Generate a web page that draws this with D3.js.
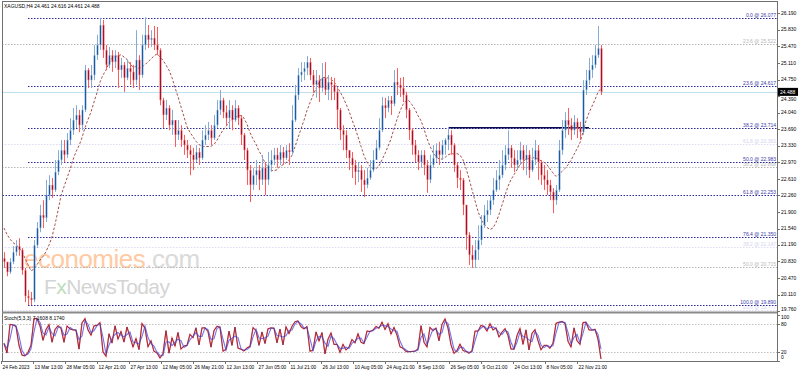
<!DOCTYPE html>
<html>
<head>
<meta charset="utf-8">
<script src="https://cdn.jsdelivr.net/npm/d3@7"></script>
<style>
    html, body { margin: 0; padding: 0; background: #fff; }
    svg { display: block; font-family: "Liberation Sans", Arial, sans-serif; }
</style>
</head>
<body>
<svg id="chart" width="798" height="372"></svg>
<script>
// ---- data ----
const chartTitle = "XAGUSD,H4  24.461 24.616 24.461 24.488";
const stochTitle = "Stoch(5,3,3) 7.1608 8.1740";
const firstOpen = 20.90;

const closes = [
    20.82, 20.60, 20.82, 21.03, 21.16, 21.08, 20.64, 20.08, 20.04, 20.00,
    21.18, 21.55, 21.83, 21.77, 22.26, 22.48, 22.37, 22.76, 23.02, 23.23,
    23.13, 23.45, 23.66, 23.88, 23.99, 23.77, 24.10, 24.96, 24.74, 24.85,
    25.28, 25.50, 25.93, 25.39, 25.07, 25.28, 25.13, 25.28, 24.96, 25.07,
    24.79, 25.00, 24.92, 24.74, 25.18, 24.85, 25.50, 25.72, 25.61, 25.65,
    25.50, 25.39, 24.31, 23.99, 24.14, 23.77, 23.88, 23.56, 23.66, 23.45,
    23.34, 23.23, 23.13, 23.02, 23.19, 23.06, 23.45, 23.56, 23.66, 23.49,
    23.77, 24.10, 24.31, 24.05, 23.92, 24.10, 23.88, 24.14, 23.92, 23.56,
    23.23, 22.80, 22.48, 22.69, 22.80, 22.59, 22.85, 22.59, 22.91, 23.02,
    23.13, 23.02, 23.19, 23.06, 23.23, 23.19, 23.88, 24.42, 24.85, 24.92,
    25.00, 25.13, 24.85, 24.64, 24.74, 24.57, 24.79, 24.53, 24.70, 24.64,
    24.49, 24.10, 23.66, 23.56, 23.23, 23.06, 22.91, 22.76, 22.80, 22.59,
    22.48, 22.63, 22.80, 23.02, 23.28, 23.66, 24.20, 24.14, 24.31, 24.23,
    24.70, 24.64, 24.57, 24.42, 24.10, 23.66, 23.34, 23.13, 22.97, 23.13,
    22.91, 22.59, 22.91, 23.06, 23.23, 23.13, 23.34, 23.45, 23.56, 23.34,
    22.91, 22.63, 22.59, 22.05, 21.40, 20.97, 20.86, 21.08, 21.29, 21.61,
    21.83, 21.94, 22.15, 22.37, 22.59, 22.69, 22.91, 23.13, 23.28, 23.06,
    22.91, 23.02, 23.23, 23.02, 23.13, 22.80, 23.02, 23.23, 22.97, 22.69,
    22.59, 22.48, 22.33, 22.15, 22.37, 23.23, 23.66, 23.88, 23.77, 23.66,
    23.84, 23.71, 23.62, 24.53, 24.74, 24.96, 25.07, 25.28, 25.43, 24.488
];
const highs = [
    21.03, 20.82, 20.90, 21.16, 21.29, 21.33, 21.12, 20.69, 20.21, 20.17,
    21.29, 21.68, 22.05, 22.15, 22.59, 22.69, 22.63, 23.02, 23.23, 23.45,
    23.45, 23.60, 23.92, 24.14, 24.20, 24.10, 24.20, 25.07, 25.00, 25.07,
    25.50, 25.72, 26.08, 26.04, 25.50, 25.46, 25.39, 25.39, 25.35, 25.22,
    25.13, 25.18, 25.13, 25.07, 25.82, 25.28, 25.72, 26.10, 25.93, 25.82,
    25.91, 25.89, 25.43, 24.36, 24.31, 24.20, 24.10, 23.88, 23.88, 23.77,
    23.56, 23.45, 23.34, 23.28, 23.34, 23.28, 23.66, 23.77, 23.84, 23.77,
    23.99, 24.31, 24.53, 24.36, 24.20, 24.31, 24.20, 24.31, 24.20, 23.99,
    23.60, 23.28, 22.91, 22.85, 23.02, 22.91, 23.13, 22.97, 23.19, 23.23,
    23.28, 23.28, 23.34, 23.30, 23.34, 23.38, 24.20, 24.64, 25.00, 25.13,
    25.13, 25.26, 25.22, 24.96, 24.96, 24.85, 25.11, 25.13, 24.85, 24.81,
    24.79, 24.57, 24.14, 23.77, 23.66, 23.23, 23.19, 23.02, 22.97, 22.91,
    22.80, 22.85, 23.02, 23.23, 23.45, 23.92, 24.38, 24.36, 24.40, 24.40,
    24.96, 25.00, 24.79, 24.81, 24.49, 24.14, 23.71, 23.45, 23.23, 23.23,
    23.23, 23.02, 23.13, 23.34, 23.38, 23.41, 23.45, 23.49, 23.73, 23.66,
    23.38, 22.97, 22.80, 22.63, 22.05, 21.46, 21.18, 21.29, 21.61, 21.83,
    22.05, 22.15, 22.26, 22.63, 22.80, 23.02, 23.23, 23.34, 23.66, 23.34,
    23.23, 23.23, 23.41, 23.34, 23.34, 23.23, 23.28, 23.45, 23.34, 23.02,
    22.91, 22.80, 22.59, 22.41, 22.48, 23.45, 23.88, 24.05, 24.14, 23.92,
    23.99, 23.92, 23.84, 24.74, 24.96, 25.22, 25.28, 25.50, 25.91, 25.50
];
const lows = [
    20.69, 20.51, 20.56, 20.77, 20.95, 20.95, 20.54, 19.95, 19.89, 19.89,
    19.95, 21.12, 21.46, 21.55, 21.68, 22.15, 22.20, 22.33, 22.69, 22.91,
    22.97, 23.06, 23.34, 23.56, 23.71, 23.62, 23.66, 24.05, 24.57, 24.57,
    24.74, 25.18, 25.39, 25.22, 24.96, 25.00, 24.92, 25.00, 24.57, 24.79,
    24.49, 24.74, 24.64, 24.57, 24.64, 24.53, 24.79, 25.39, 25.43, 25.46,
    25.39, 25.28, 24.20, 23.71, 23.88, 23.66, 23.56, 23.30, 23.45, 23.30,
    23.13, 23.06, 22.69, 22.80, 22.97, 22.91, 23.02, 23.34, 23.45, 23.34,
    23.45, 23.71, 23.99, 23.92, 23.77, 23.71, 23.66, 23.84, 23.77, 23.34,
    23.02, 22.48, 22.11, 22.37, 22.48, 22.37, 22.48, 22.26, 22.48, 22.76,
    22.91, 22.85, 22.91, 22.91, 23.02, 22.91, 23.13, 23.84, 24.31, 24.70,
    24.74, 24.85, 24.74, 24.46, 24.36, 24.27, 24.49, 24.42, 24.31, 24.31,
    24.31, 23.71, 23.45, 23.23, 23.06, 22.80, 22.63, 22.48, 22.54, 22.33,
    22.22, 22.41, 22.59, 22.76, 23.02, 23.23, 23.62, 23.92, 24.05, 23.99,
    24.18, 24.42, 24.38, 24.27, 23.92, 23.45, 23.13, 22.97, 22.80, 22.85,
    22.69, 22.31, 22.52, 22.85, 22.97, 22.91, 23.02, 23.13, 23.23, 23.13,
    22.76, 22.41, 22.37, 21.83, 21.08, 20.75, 20.69, 20.69, 20.86, 21.18,
    21.55, 21.68, 21.83, 22.05, 22.33, 22.37, 22.63, 22.80, 23.02, 22.85,
    22.76, 22.80, 22.91, 22.80, 22.69, 22.63, 22.76, 22.91, 22.59, 22.48,
    22.37, 22.26, 22.15, 21.87, 22.05, 22.33, 23.13, 23.49, 23.56, 23.45,
    23.56, 23.49, 23.45, 23.56, 24.42, 24.64, 24.79, 25.00, 25.22, 24.42
];
// closes just before the visible window, needed to start the moving average
const priorCloses = [21.95, 21.85, 21.80, 21.62, 21.70, 21.55, 21.45, 21.40, 21.36];
const maPeriod = 10;

const priceTicks = [26.190, 25.830, 25.470, 25.110, 24.750, 24.390, 24.040, 23.690, 23.330,
    22.970, 22.610, 22.260, 21.900, 21.540, 21.190, 20.830, 20.470, 20.110, 19.760];
const lastPrice = 24.488;

const timeLabels = ["24 Feb 2023", "13 Mar 13:00", "28 Mar 05:00", "12 Apr 21:00", "27 Apr 13:00",
    "12 May 05:00", "26 May 21:00", "12 Jun 13:00", "27 Jun 05:00", "11 Jul 21:00", "26 Jul 13:00",
    "10 Aug 05:00", "24 Aug 21:00", "8 Sep 13:00", "26 Sep 05:00", "9 Oct 21:00", "24 Oct 13:00",
    "8 Nov 05:00", "22 Nov 21:00"];
// candle index under each time label
const timeTickIdx = [-1, 9.7, 20.3, 31, 41.7, 52.3, 63, 73.7, 84.3, 95, 105.7, 116.3, 127,
    137.7, 148.3, 159, 169.7, 180.3, 191];

// fibonacci sets
const fibBlueLevels = ["0.0", "23.6", "38.2", "50.0", "61.8", "76.4", "100.0"];
const fibBluePrices = [26.077, 24.617, 23.714, 22.983, 22.253, 21.350, 19.890];
const fibBlueStart = [8, 8, 8, 8, -1.5, 8, 8];
const fibGrayLevels = ["23.6", "38.2", "50.0"];
const fibGrayPrices = [25.522, 22.868, 20.715];
const fibLightLevels = ["61.8", "38.2", "23.6"];
const fibLightPrices = [23.362, 21.147, 19.777];

// horizontal line drawn across the top of the September/November range
const necklineIdx = [148, 195];
const necklinePrice = 23.714;

const stochLevels = [80, 20];
const stochTicks = [100, 80, 20, 0];
const stochK = 2, stochSlow = 1, stochD = 2;

// ---- layout ----
const W = 798, H = 372;
const left = 2, right = 777;
const mainTop = 1, mainBottom = 311;
const stBottom = 361;
const fs = 5;

const svg = d3.select("#chart");

const x = d3.scaleLinear().domain([0, closes.length - 1]).range([4, 601]);
const y = d3.scaleLinear().domain([19.76, 26.19]).range([311, 13]);
const ys = d3.scaleLinear().domain([0, 100]).range([361, 315]);

const candles = closes.map((c, i) => {
    const o = i ? closes[i - 1] : firstOpen;
    return { i, o, c, h: Math.max(highs[i], o, c), l: Math.min(lows[i], o, c) };
});

// moving average
const full = priorCloses.concat(closes);
const ma = closes.map((c, i) => d3.mean(full.slice(i + priorCloses.length - maPeriod + 1, i + priorCloses.length + 1)));

// stochastic
const rawK = candles.map((d, i) => {
    const win = candles.slice(Math.max(0, i - stochK + 1), i + 1);
    const hh = d3.max(win, w => w.h), ll = d3.min(win, w => w.l);
    return hh === ll ? 50 : (d.c - ll) / (hh - ll) * 100;
});
const kLine = rawK.map((v, i) => d3.mean(rawK.slice(Math.max(0, i - stochSlow + 1), i + 1)));
const dLine = kLine.map((v, i) => d3.mean(kLine.slice(Math.max(0, i - stochD + 1), i + 1)));

// ---- frame ----
svg.append("clipPath").attr("id", "mainClip")
    .append("rect").attr("x", left).attr("y", mainTop).attr("width", right - left).attr("height", mainBottom - mainTop);

svg.append("rect").attr("x", 0).attr("y", 0).attr("width", W).attr("height", H).attr("fill", "#fff");

// watermark
const wm = svg.append("g").attr("font-family", "'Liberation Sans', Arial, sans-serif");
const wmText = wm.append("text").attr("x", 24).attr("y", 268).attr("font-size", 26).attr("letter-spacing", -0.5);
wmText.append("tspan").attr("fill", "#ffcaa3").text("economies");
wmText.append("tspan").attr("fill", "#dadada").text(".com");
const wm2 = wm.append("text").attr("x", 44).attr("y", 294).attr("font-size", 21).attr("letter-spacing", -0.6);
wm2.append("tspan").attr("fill", "#d4d4d4").text("F");
wm2.append("tspan").attr("fill", "#bcdcbc").text("x");
wm2.append("tspan").attr("fill", "#d4d4d4").text("NewsToday");

const main = svg.append("g").attr("clip-path", "url(#mainClip)");

// fib lines
function fibSet(levels, prices, starts, lineColor, textColor) {
    prices.forEach((p, k) => {
        const x0 = starts ? x(starts[k]) : left;
        main.append("line")
            .attr("x1", x0).attr("x2", right)
            .attr("y1", Math.round(y(p)) + 0.5).attr("y2", Math.round(y(p)) + 0.5)
            .attr("stroke", lineColor).attr("stroke-width", 1).attr("stroke-dasharray", "1.5,1.5");
        main.append("text")
            .attr("x", right - 1).attr("y", Math.round(y(p)) - 1)
            .attr("text-anchor", "end").attr("font-size", fs).attr("fill", textColor)
            .text(`${levels[k]} @ ${p.toFixed(3)}`);
    });
}
fibSet(fibLightLevels, fibLightPrices, null, "#dcdcf4", "#d4d4ee");
fibSet(fibGrayLevels, fibGrayPrices, null, "#b4b4b4", "#b8b8b8");
fibSet(fibBlueLevels, fibBluePrices, fibBlueStart, "#2a2a9a", "#3a3aa8");

// current price line
main.append("line")
    .attr("x1", left).attr("x2", right)
    .attr("y1", Math.round(y(lastPrice)) + 0.5).attr("y2", Math.round(y(lastPrice)) + 0.5)
    .attr("stroke", "#bfe0ee").attr("stroke-width", 1);

// neckline
main.append("line")
    .attr("x1", x(necklineIdx[0])).attr("x2", x(necklineIdx[1]))
    .attr("y1", y(necklinePrice)).attr("y2", y(necklinePrice))
    .attr("stroke", "#0a0a50").attr("stroke-width", 1.6);

// moving average
main.append("path")
    .datum(ma)
    .attr("fill", "none")
    .attr("stroke", "#a5504c")
    .attr("stroke-width", 1)
    .attr("stroke-dasharray", "2.5,1.8")
    .attr("d", d3.line().x((d, i) => x(i)).y(d => y(d)));

// candles
const cg = main.append("g").selectAll("g").data(candles).enter().append("g");
cg.append("line")
    .attr("x1", d => Math.round(x(d.i)) + 0.5).attr("x2", d => Math.round(x(d.i)) + 0.5)
    .attr("y1", d => y(d.h)).attr("y2", d => y(d.l))
    .attr("stroke", d => d.c >= d.o ? "#86acd6" : "#ff5a5a").attr("stroke-width", 1);
cg.append("rect")
    .attr("x", d => Math.round(x(d.i)) - 0.5).attr("width", 2)
    .attr("y", d => y(Math.max(d.o, d.c)))
    .attr("height", d => Math.max(1, Math.abs(y(d.o) - y(d.c))))
    .attr("fill", d => d.c >= d.o ? "#86acd6" : "#ff5a5a");
cg.append("rect")
    .attr("x", d => Math.round(x(d.i))).attr("width", 1)
    .attr("y", d => y(Math.max(d.o, d.c)) + 0.5)
    .attr("height", d => Math.max(0.5, Math.abs(y(d.o) - y(d.c)) - 1))
    .attr("fill", d => d.c >= d.o ? "#1d5a9c" : "#8a1a3c");

// title
svg.append("text").attr("x", 4).attr("y", 8).attr("font-size", fs).attr("fill", "#000").text(chartTitle);

// price axis
svg.append("line").attr("x1", right + 0.5).attr("x2", right + 0.5).attr("y1", mainTop).attr("y2", stBottom)
    .attr("stroke", "#707070");
const pa = svg.append("g");
const boxY = y(lastPrice);
priceTicks.forEach(t => {
    pa.append("line").attr("x1", right).attr("x2", right + 3)
        .attr("y1", Math.round(y(t)) + 0.5).attr("y2", Math.round(y(t)) + 0.5).attr("stroke", "#707070");
    // the label that sits under the last-price box is pushed just below it
    let ty = Math.min(y(t), 309.5);
    if (Math.abs(ty - boxY) < 7) ty = ty > boxY ? boxY + 7.5 : boxY - 7.5;
    pa.append("text").attr("x", right + 4).attr("y", ty + 1.7)
        .attr("font-size", fs).attr("fill", "#000").text(t.toFixed(3));
});
// last price box
svg.append("rect").attr("x", right + 1).attr("y", boxY - 4).attr("width", 20).attr("height", 8).attr("fill", "#000");
svg.append("text").attr("x", right + 3).attr("y", boxY + 1.8)
    .attr("font-size", fs).attr("fill", "#fff").text(lastPrice.toFixed(3));

// frame lines
svg.append("line").attr("x1", left).attr("x2", right).attr("y1", mainTop + 0.5).attr("y2", mainTop + 0.5).attr("stroke", "#707070");
svg.append("line").attr("x1", left + 0.5).attr("x2", left + 0.5).attr("y1", mainTop).attr("y2", stBottom).attr("stroke", "#707070");
svg.append("rect").attr("x", left).attr("y", mainBottom + 0.5).attr("width", right - left).attr("height", 2).attr("fill", "#8a8a8a");
svg.append("line").attr("x1", left).attr("x2", right).attr("y1", stBottom + 0.5).attr("y2", stBottom + 0.5).attr("stroke", "#707070");

// ---- stochastic panel ----
const st = svg.append("g");
stochLevels.forEach(v => {
    st.append("line").attr("x1", left).attr("x2", right)
        .attr("y1", Math.round(ys(v)) + 0.5).attr("y2", Math.round(ys(v)) + 0.5)
        .attr("stroke", "#c0c0c0").attr("stroke-dasharray", "1.5,1.5");
});
const sLine = d3.line().x((d, i) => x(i)).y(d => ys(d));
st.append("path").datum(kLine).attr("fill", "none").attr("stroke", "#ff6464").attr("stroke-width", 1.3).attr("d", sLine);
st.append("path").datum(dLine).attr("fill", "none").attr("stroke", "#7474e8").attr("stroke-width", 1.1).attr("d", sLine);
st.append("path").datum(kLine).attr("fill", "none").attr("stroke", "#5c0a2a").attr("stroke-width", 0.6).attr("d", sLine);
st.append("text").attr("x", 4).attr("y", 320).attr("font-size", fs).attr("fill", "#000").text(stochTitle);
stochTicks.forEach(t => {
    st.append("line").attr("x1", right).attr("x2", right + 3)
        .attr("y1", Math.round(ys(t)) + 0.5).attr("y2", Math.round(ys(t)) + 0.5).attr("stroke", "#707070");
    st.append("text").attr("x", right + 4).attr("y", Math.max(Math.min(ys(t), 357.5), 317.5) + 1.7)
        .attr("font-size", fs).attr("fill", "#000").text(t);
});

// ---- time axis ----
const ta = svg.append("g");
timeLabels.forEach((lab, k) => {
    const tx = Math.round(x(timeTickIdx[k])) + 0.5;
    ta.append("line").attr("x1", tx).attr("x2", tx).attr("y1", stBottom).attr("y2", stBottom + 3).attr("stroke", "#707070");
    ta.append("text").attr("x", tx + 1).attr("y", 368.5).attr("font-size", 4.8).attr("fill", "#000").text(lab);
});
</script>
</body>
</html>
